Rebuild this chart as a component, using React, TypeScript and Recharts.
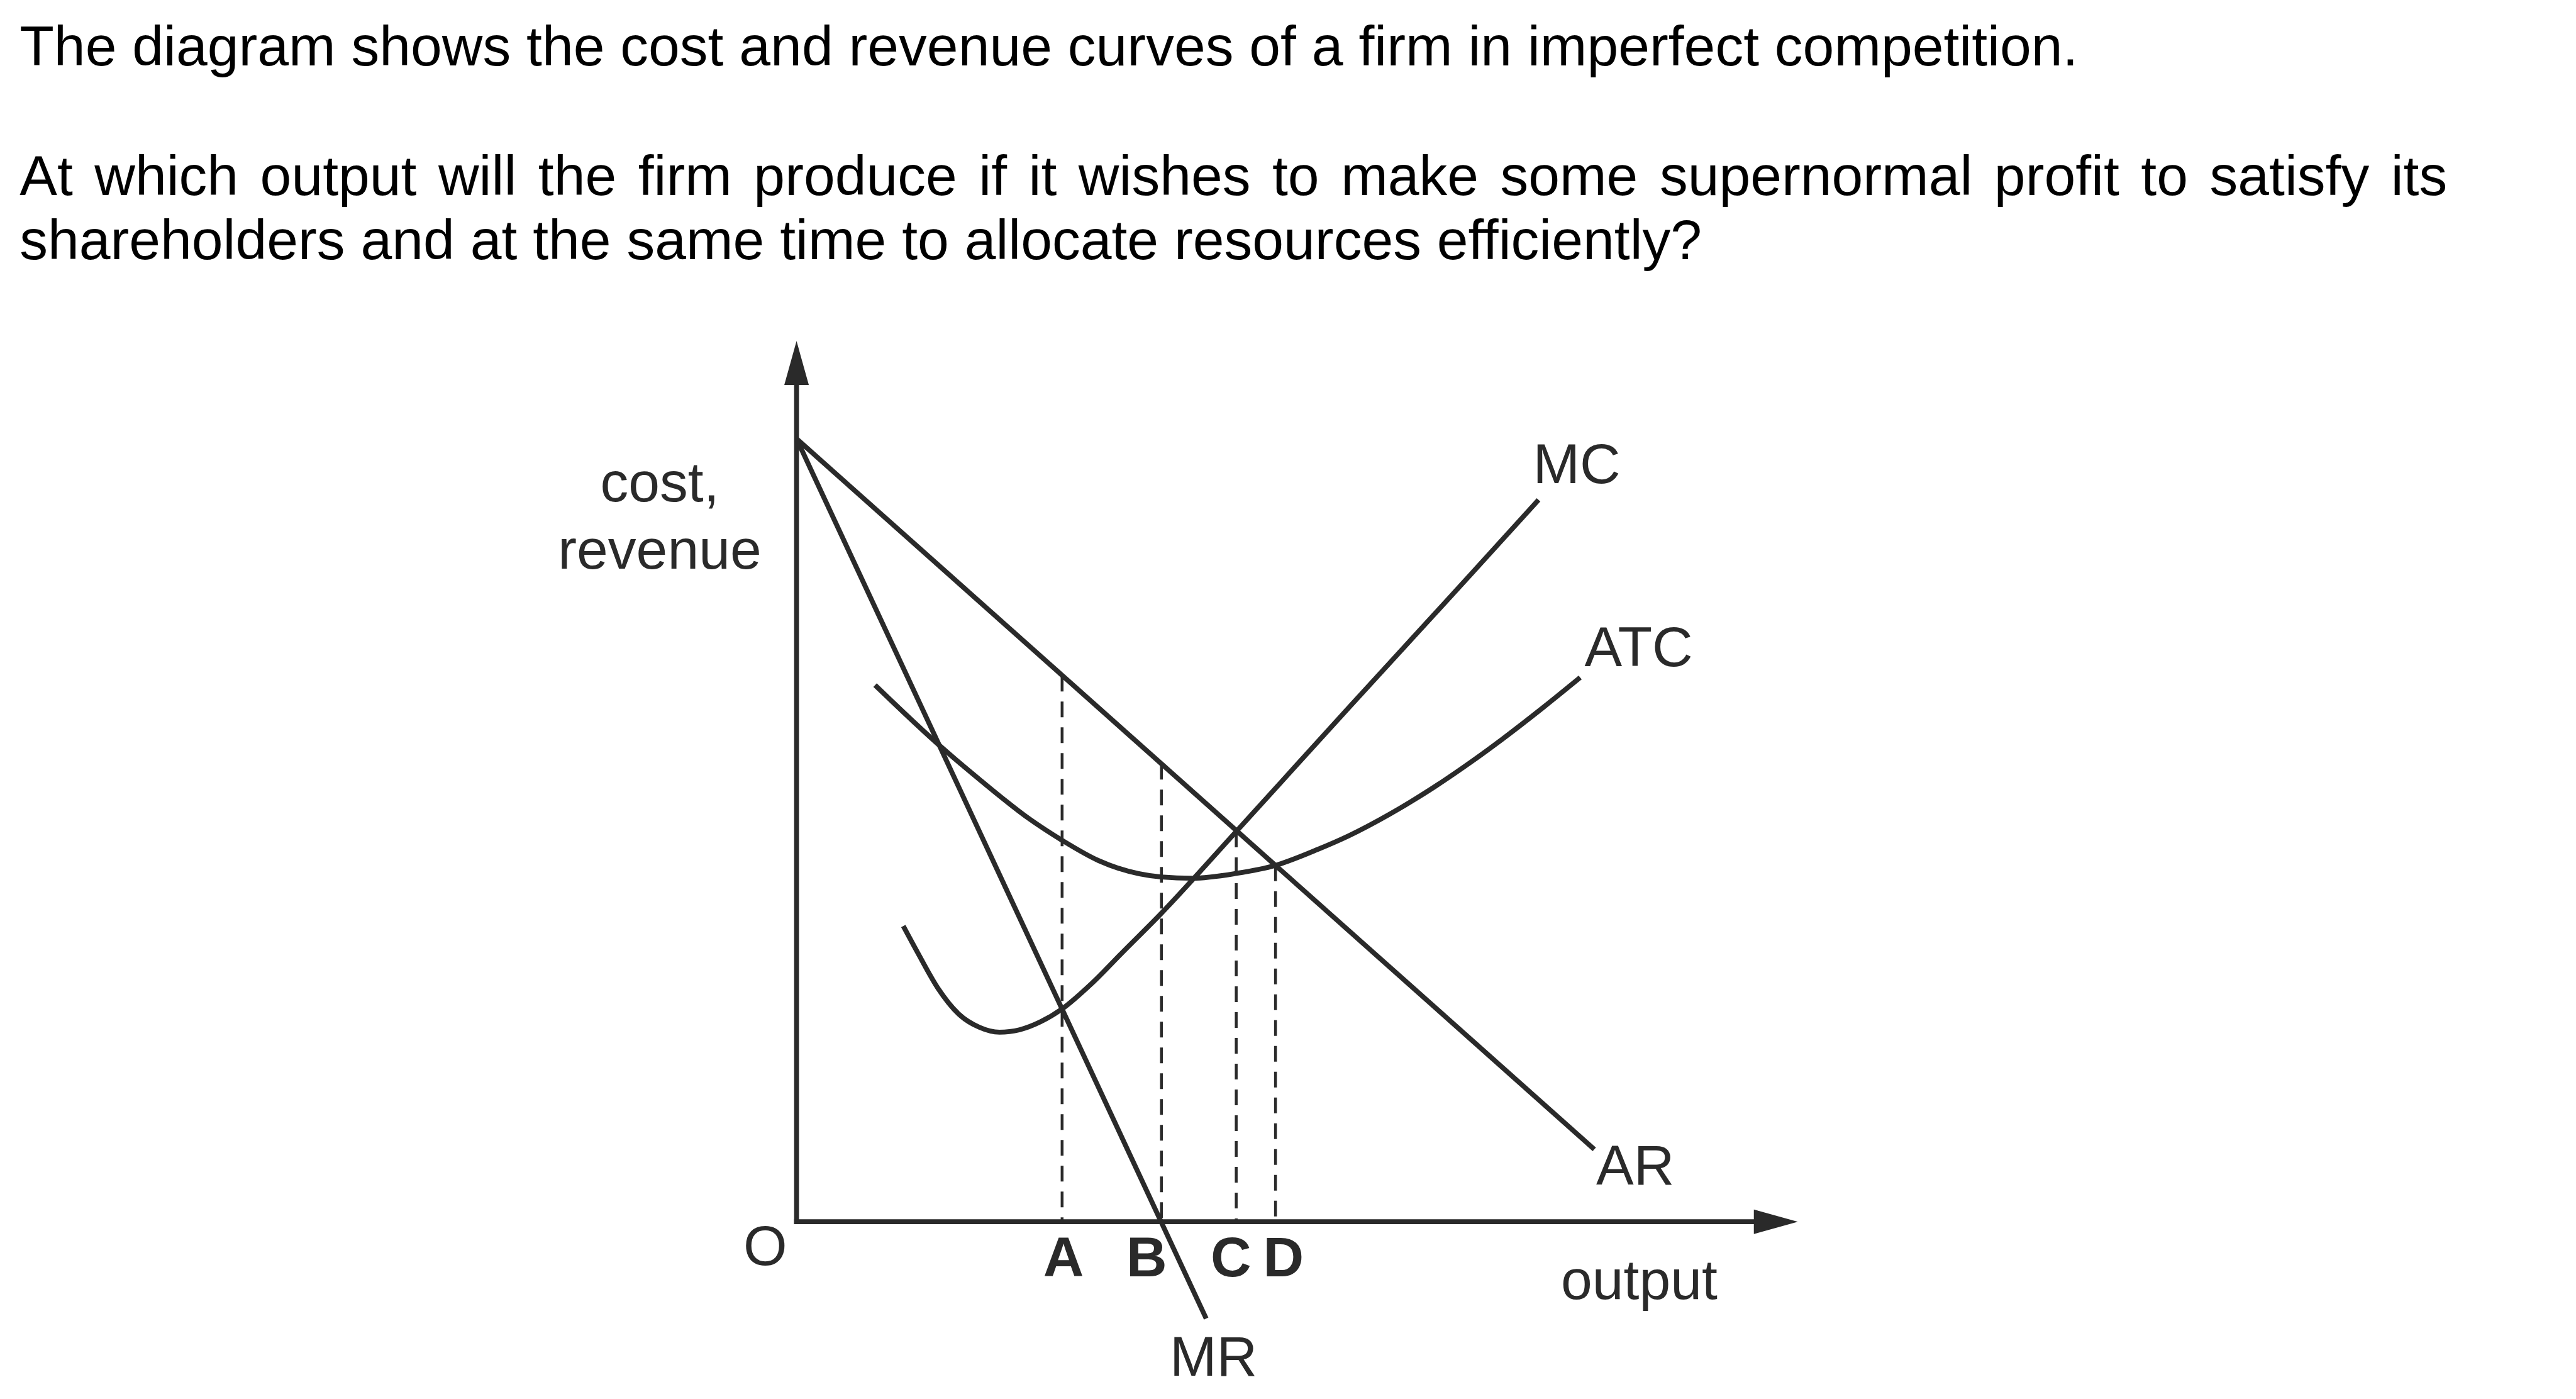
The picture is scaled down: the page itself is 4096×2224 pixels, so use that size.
import React from 'react';
import { ComposedChart, Line, XAxis, YAxis, ReferenceLine, Customized } from 'recharts';

// ---- data (economic units: output on x, cost/revenue on y) ----
const arPoints = [
  { x: 0, y: 88.9 },
  { x: 79.67, y: 8.22 },
];
const mrPoints = [
  { x: 0, y: 88.9 },
  { x: 40.91, y: -11.0 },
];
const mcPoints = [
  { x: 10.66, y: 33.57 },
  { x: 12.12, y: 30.5 },
  { x: 14.15, y: 26.46 },
  { x: 16.17, y: 23.61 },
  { x: 18.25, y: 22.08 },
  { x: 20.27, y: 21.52 },
  { x: 22.29, y: 21.8 },
  { x: 24.37, y: 22.7 },
  { x: 26.52, y: 24.16 },
  { x: 29.45, y: 27.02 },
  { x: 32.52, y: 30.55 },
  { x: 36.44, y: 35.03 },
  { x: 43.91, y: 44.3 },
  { x: 55.17, y: 58.4 },
  { x: 67.42, y: 73.6 },
  { x: 74.1, y: 81.96 },
];
const atcPoints = [
  { x: 7.84, y: 60.93 },
  { x: 14.45, y: 53.9 },
  { x: 18.43, y: 50.07 },
  { x: 23.15, y: 45.82 },
  { x: 26.52, y: 43.31 },
  { x: 30.13, y: 41.02 },
  { x: 36.44, y: 39.14 },
  { x: 39.5, y: 39.0 },
  { x: 43.91, y: 39.55 },
  { x: 47.83, y: 40.46 },
  { x: 52.11, y: 42.3 },
  { x: 55.17, y: 43.83 },
  { x: 59.28, y: 46.3 },
  { x: 63.32, y: 49.09 },
  { x: 67.42, y: 52.25 },
  { x: 70.48, y: 54.79 },
  { x: 74.59, y: 58.41 },
  { x: 78.26, y: 61.79 },
];
const outputLabels = ['A', 'B', 'C', 'D'];
const outputLevels = [26.52, 36.44, 43.91, 47.83];
const outputTops = [62.0, 52.0, 44.3, 40.46];
const axisTips = { x: 100, y: 100 };

const titleLines = [
  'The diagram shows the cost and revenue curves of a firm in imperfect competition.',
  'At which output will the firm produce if it wishes to make some supernormal profit to satisfy its',
  'shareholders and at the same time to allocate resources efficiently?',
];

// ---- layout ----
const W = 4096;
const H = 2224;
const FONT = '"Liberation Sans", Arial, Helvetica, sans-serif';
const FS = 89.5;
const INK = '#2a2a2a';
const LW = 7.8;

function measureWidth(text: string, font: string): number {
  try {
    const ctx = document.createElement('canvas').getContext('2d');
    if (!ctx) return 0;
    ctx.font = font;
    return ctx.measureText(text).width;
  } catch (e) {
    return 0;
  }
}

const AxisArrow = (props: any) => {
  const { x1, y1, x2, y2 } = props;
  const dx = x2 - x1;
  const dy = y2 - y1;
  const len = Math.hypot(dx, dy) || 1;
  const ux = dx / len;
  const uy = dy / len;
  const L = 70;
  const HW = 19.5;
  const bx = x2 - ux * L;
  const by = y2 - uy * L;
  const px = -uy;
  const py = ux;
  const pts = `${x2},${y2} ${bx + px * HW},${by + py * HW} ${bx - px * HW},${by - py * HW}`;
  return (
    <g>
      <line
        x1={x1 - ux * (LW / 2)}
        y1={y1 - uy * (LW / 2)}
        x2={bx + ux * 2}
        y2={by + uy * 2}
        stroke={INK}
        strokeWidth={LW}
      />
      <polygon points={pts} fill={INK} />
    </g>
  );
};

const TextLayer = () => {
  const line2Natural = measureWidth(titleLines[1], `${FS}px "Liberation Sans"`);
  const spaces = (titleLines[1].match(/ /g) || []).length;
  const target2 = 3860;
  const ws = line2Natural > 0 ? (target2 - line2Natural) / spaces : 0;
  const common = { fontFamily: FONT, fontSize: FS };
  return (
    <g>
      <text x={31.2} y={104.3} fill="#000" {...common}>{titleLines[0]}</text>
      <text x={31.2} y={310} fill="#000" wordSpacing={ws} {...common}>{titleLines[1]}</text>
      <text x={31.2} y={412.4} fill="#000" {...common}>{titleLines[2]}</text>

      <text x={1049} y={796.6} textAnchor="middle" fill={INK} {...common}>cost,</text>
      <text x={1049} y={903.8} textAnchor="middle" fill={INK} {...common}>revenue</text>
      <text x={2437.5} y={768.3} fill={INK} {...common}>MC</text>
      <text x={2519.4} y={1058.9} fill={INK} {...common}>ATC</text>
      <text x={2538} y={1882.7} fill={INK} {...common}>AR</text>
      <text x={2482} y={2065} fill={INK} {...common}>output</text>
      <text x={1860} y={2187} fill={INK} {...common}>MR</text>
      <text x={1182} y={2011.4} fill={INK} {...common}>O</text>
      {outputLabels.map((l, i) => (
        <text
          key={l}
          x={[1691, 1823.3, 1957.3, 2040.7][i]}
          y={2029}
          textAnchor="middle"
          fontWeight="bold"
          fill={INK}
          {...common}
        >
          {l}
        </text>
      ))}
    </g>
  );
};

export default function App() {
  return (
    <div style={{ position: 'absolute', left: 0, top: 0, width: W, height: H, background: '#fff' }}>
      <ComposedChart width={W} height={H} margin={{ top: 0, right: 0, bottom: 0, left: 0 }}>
        <XAxis type="number" dataKey="x" domain={[-79.55, 177.71]} hide allowDataOverflow />
        <YAxis type="number" dataKey="y" domain={[-20.13, 138.72]} hide allowDataOverflow />

        <ReferenceLine
          segment={[{ x: 0, y: 0 }, { x: 0, y: axisTips.y }]}
          shape={AxisArrow}
          ifOverflow="visible"
        />
        <ReferenceLine
          segment={[{ x: 0, y: 0 }, { x: axisTips.x, y: 0 }]}
          shape={AxisArrow}
          ifOverflow="visible"
        />

        {outputLevels.map((q, i) => (
          <ReferenceLine
            key={outputLabels[i]}
            segment={[{ x: q, y: outputTops[i] }, { x: q, y: 0 }]}
            stroke={INK}
            strokeWidth={4.5}
            strokeDasharray="25 16"
            ifOverflow="visible"
          />
        ))}

        <Line data={arPoints} dataKey="y" type="linear" stroke={INK} strokeWidth={LW} dot={false} activeDot={false} isAnimationActive={false} />
        <Line data={mrPoints} dataKey="y" type="linear" stroke={INK} strokeWidth={LW} dot={false} activeDot={false} isAnimationActive={false} />
        <Line data={mcPoints} dataKey="y" type="monotone" stroke={INK} strokeWidth={LW} dot={false} activeDot={false} isAnimationActive={false} />
        <Line data={atcPoints} dataKey="y" type="monotone" stroke={INK} strokeWidth={LW} dot={false} activeDot={false} isAnimationActive={false} />

        <Customized component={TextLayer} />
      </ComposedChart>
    </div>
  );
}
